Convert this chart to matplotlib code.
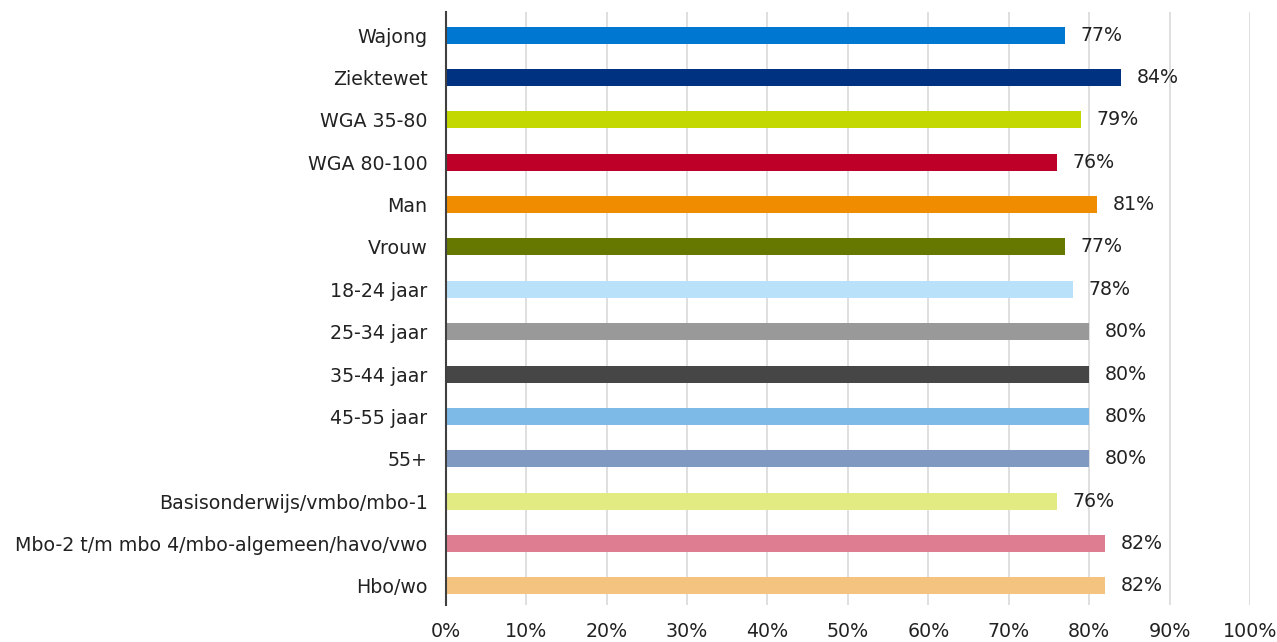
import matplotlib
matplotlib.use("Agg")
import matplotlib.pyplot as plt
from matplotlib.ticker import MultipleLocator, FuncFormatter

plt.rcParams["font.family"] = ["DejaVu Sans"]

categories = [
    "Wajong", "Ziektewet", "WGA 35-80", "WGA 80-100", "Man", "Vrouw",
    "18-24 jaar", "25-34 jaar", "35-44 jaar", "45-55 jaar", "55+",
    "Basisonderwijs/vmbo/mbo-1",
    "Mbo-2 t/m mbo 4/mbo-algemeen/havo/vwo", "Hbo/wo",
]
values = [77, 84, 79, 76, 81, 77, 78, 80, 80, 80, 80, 76, 82, 82]
colors = [
    "#0078D2", "#003282", "#C3D700", "#BE0028", "#F08C00", "#667800",
    "#B9E1FA", "#999999", "#464646", "#7DBAE8", "#7F99C1",
    "#E1EB82", "#DE7D91", "#F5C380",
]

fs = 13.7
fig = plt.figure(figsize=(12.77, 6.42), dpi=100)
ax = fig.add_axes([0.349, 0.0576, 0.63, 0.9234])

pos = list(range(len(categories)))
ax.barh(pos, values, height=0.4, color=colors, zorder=2)

for p, v in zip(pos, values):
    ax.text(v + 1.9, p, f"{v}%", va="center", ha="left",
            fontsize=fs, color="#222222")

ax.set_xlim(0, 100)
ax.set_ylim(13.45, -0.54)
ax.set_yticks(pos)
ax.set_yticklabels(categories, fontsize=fs, color="#222222")
ax.xaxis.set_major_locator(MultipleLocator(10))
ax.xaxis.set_major_formatter(FuncFormatter(lambda x, _: f"{x:.0f}%"))
ax.tick_params(axis="x", labelsize=fs, labelcolor="#222222", length=0, pad=12)
ax.tick_params(axis="y", length=0, pad=13)

ax.grid(axis="x", color="#D9D9D9", linewidth=1.2, zorder=0)
for s in ["top", "right", "bottom"]:
    ax.spines[s].set_visible(False)
ax.spines["left"].set_color("#404040")
ax.spines["left"].set_linewidth(1.5)
ax.spines["left"].set_zorder(3)

fig.savefig("out.png", dpi=100)
